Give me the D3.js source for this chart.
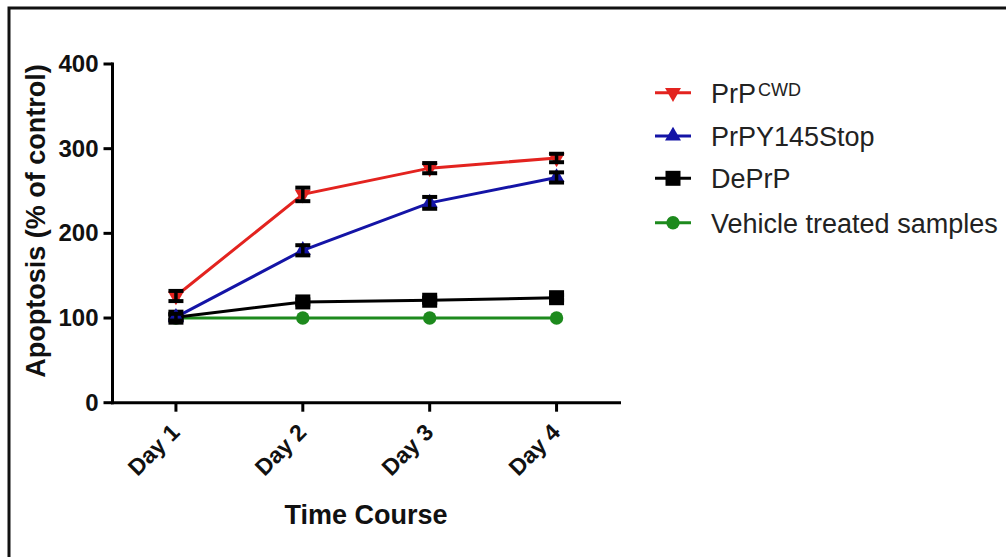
<!DOCTYPE html>
<html>
<head>
<meta charset="utf-8">
<script src="https://cdn.jsdelivr.net/npm/d3@7"></script>
<style>
  body { margin: 0; background: #fff; }
  svg { display: block; }
  text { font-family: Arial, "Liberation Sans", sans-serif; }
</style>
</head>
<body>
<div id="chart"></div>
<script>
// data
const days = ["Day 1", "Day 2", "Day 3", "Day 4"];
const prpCwd = [126, 246, 277, 289];
const prpCwdErr = [6, 8, 6, 5];
const prpY145 = [101, 180, 236, 266];
const prpY145Err = [4, 6, 7, 6];
const deprp = [101, 119, 121, 124];
const deprpErr = [3, 3, 3, 3];
const vehicle = [100, 100, 100, 100];
const vehicleErr = [0, 0, 0, 0];
const yTicks = [0, 100, 200, 300, 400];

const series = [
    { name: "PrP", sup: "CWD", values: prpCwd, err: prpCwdErr, color: "#e3231f", symbol: "triDown" },
    { name: "PrPY145Stop", sup: null, values: prpY145, err: prpY145Err, color: "#1414a6", symbol: "triUp" },
    { name: "DePrP", sup: null, values: deprp, err: deprpErr, color: "#000000", symbol: "square" },
    { name: "Vehicle treated samples", sup: null, values: vehicle, err: vehicleErr, color: "#1d8a1d", symbol: "circle" }
];

const width = 1006, height = 557;

const svg = d3.select("#chart").append("svg")
    .attr("width", width)
    .attr("height", height);

// outer frame (runs off the right/bottom edge like the screenshot)
svg.append("rect")
    .attr("x", 9).attr("y", 8)
    .attr("width", 1010).attr("height", 560)
    .attr("fill", "none")
    .attr("stroke", "#111")
    .attr("stroke-width", 3);

const x = d3.scalePoint().domain(days).range([112.5, 620]).padding(0.5);
const y = d3.scaleLinear().domain([0, 400]).range([402.7, 64]);

// y axis
const yAxis = svg.append("g").attr("transform", "translate(112.5,0)");
yAxis.append("line")
    .attr("y1", y(400) - 1.5).attr("y2", y(0) + 1.5)
    .attr("stroke", "#000").attr("stroke-width", 3);
yAxis.selectAll(".tick").data(yTicks).enter().append("line")
    .attr("x1", -9).attr("x2", 0)
    .attr("y1", d => y(d)).attr("y2", d => y(d))
    .attr("stroke", "#000").attr("stroke-width", 3);
yAxis.selectAll(".lbl").data(yTicks).enter().append("text")
    .attr("x", -14)
    .attr("y", d => y(d) + 8)
    .attr("text-anchor", "end")
    .attr("font-size", "24px")
    .attr("font-weight", "bold")
    .attr("fill", "#111")
    .text(d => d);

// x axis
const xAxis = svg.append("g").attr("transform", `translate(0,${y(0)})`);
xAxis.append("line")
    .attr("x1", 111).attr("x2", 621)
    .attr("stroke", "#000").attr("stroke-width", 3);
xAxis.selectAll(".tick").data(days).enter().append("line")
    .attr("x1", d => x(d)).attr("x2", d => x(d))
    .attr("y1", 0).attr("y2", 9)
    .attr("stroke", "#000").attr("stroke-width", 3);
xAxis.selectAll(".lbl").data(days).enter().append("text")
    .attr("transform", d => `translate(${x(d) + 5},${31}) rotate(-45)`)
    .attr("text-anchor", "end")
    .attr("font-size", "23px")
    .attr("font-weight", "bold")
    .attr("fill", "#111")
    .text(d => d);

// axis titles
svg.append("text")
    .attr("transform", "translate(45,221) rotate(-90)")
    .attr("text-anchor", "middle")
    .attr("font-size", "27px")
    .attr("font-weight", "bold")
    .attr("fill", "#111")
    .text("Apoptosis (% of control)");

svg.append("text")
    .attr("x", 366).attr("y", 524)
    .attr("text-anchor", "middle")
    .attr("font-size", "27px")
    .attr("font-weight", "bold")
    .attr("fill", "#111")
    .text("Time Course");

function symbolPath(kind) {
    if (kind === "triDown" || kind === "triUp") return d3.symbol().type(d3.symbolTriangle).size(110)();
    if (kind === "square") return d3.symbol().type(d3.symbolSquare).size(225)();
    return d3.symbol().type(d3.symbolCircle).size(140)();
}

const line = d3.line()
    .x((d, i) => x(days[i]))
    .y(d => y(d));

// draw back to front so red ends on top
const order = [3, 2, 1, 0];
order.forEach(k => {
    const s = series[k];
    const g = svg.append("g");
    g.append("path")
        .attr("d", line(s.values))
        .attr("fill", "none")
        .attr("stroke", s.color)
        .attr("stroke-width", 3);

    g.selectAll(".pt").data(s.values).enter().append("path")
        .attr("d", symbolPath(s.symbol))
        .attr("transform", (d, i) => `translate(${x(days[i])},${y(d)})${s.symbol === "triDown" ? " rotate(180)" : ""}`)
        .attr("fill", s.color);

    // error bars
    const eb = g.selectAll(".eb").data(s.values.map((v, i) => ({ v, e: s.err[i], i })))
        .enter().append("g")
        .filter(d => d.e > 0);
    eb.append("line")
        .attr("x1", d => x(days[d.i])).attr("x2", d => x(days[d.i]))
        .attr("y1", d => y(d.v + d.e)).attr("y2", d => y(d.v - d.e))
        .attr("stroke", "#000").attr("stroke-width", 3.5);
    [1, -1].forEach(sign => {
        eb.append("line")
            .attr("x1", d => x(days[d.i]) - 7.5).attr("x2", d => x(days[d.i]) + 7.5)
            .attr("y1", d => y(d.v + sign * d.e)).attr("y2", d => y(d.v + sign * d.e))
            .attr("stroke", "#000").attr("stroke-width", 4);
    });
});

// legend
const legend = svg.append("g");
const legendY = [92.7, 136, 178.3, 222.7];
series.forEach((s, k) => {
    const g = legend.append("g").attr("transform", `translate(0,${legendY[k]})`);
    g.append("line")
        .attr("x1", 655).attr("x2", 691)
        .attr("stroke", s.color).attr("stroke-width", 3);
    g.append("path")
        .attr("d", symbolPath(s.symbol))
        .attr("transform", `translate(673,0)${s.symbol === "triDown" ? " rotate(180)" : ""}`)
        .attr("fill", s.color);
    const t = g.append("text")
        .attr("x", 711).attr("y", 10)
        .attr("font-size", "27px")
        .attr("fill", "#222")
        .text(s.name);
    if (s.sup) {
        t.append("tspan")
            .attr("dx", 2).attr("dy", -7)
            .attr("font-size", "18px")
            .text(s.sup);
    }
});
</script>
</body>
</html>
